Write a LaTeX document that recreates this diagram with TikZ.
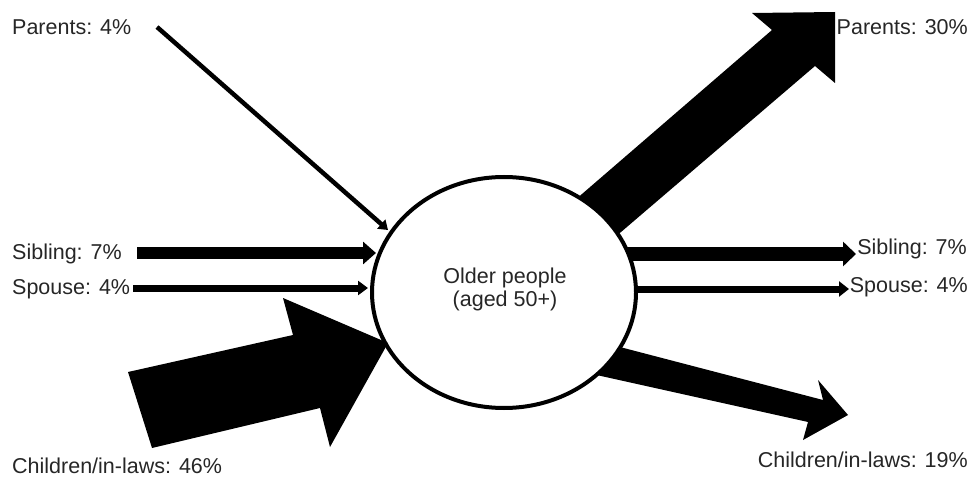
\documentclass[tikz,border=0pt]{standalone}
\usepackage{fontspec}
\setmainfont{Liberation Sans}
\usetikzlibrary{arrows.meta,shapes.geometric}
\begin{document}
\begin{tikzpicture}[x=1pt,y=-1pt,
  lbl/.style={inner sep=0pt,text=black!85,font=\fontsize{21.5}{23}\selectfont},
  blockarrow/.style={fill=black,draw=none},
  flow/.style={draw=black}]
\useasboundingbox (0,0) rectangle (980,481);
% labels
\node[lbl,anchor=base west] (pin) at (12,34.5) {Parents: 4\%};
\node[lbl,anchor=base west] (sin) at (12,259.5) {Sibling: 7\%};
\node[lbl,anchor=base west] (spin) at (12,294.5) {Spouse: 4\%};
\node[lbl,anchor=base west] (cin) at (12,473.5) {Children/in-laws: 46\%};
\node[lbl,anchor=base east] (pout) at (968,34.5) {Parents: 30\%};
\node[lbl,anchor=base east] (sout) at (967,254.5) {Sibling: 7\%};
\node[lbl,anchor=base east] (spout) at (968,292.5) {Spouse: 4\%};
\node[lbl,anchor=base east] (cout) at (968,467.5) {Children/in-laws: 19\%};
% coordinates
\coordinate (pinA) at (157,27);
\coordinate (pinB) at (388,230);
\coordinate (sinA) at (137,253);
\coordinate (sinB) at (376,253);
\coordinate (spinA) at (133,288);
\coordinate (spinB) at (368,288);
\coordinate (soutA) at (600,254);
\coordinate (soutB) at (856,254);
\coordinate (spoutA) at (600,289);
\coordinate (spoutB) at (849,289);
% outgoing arrows (under the circle)
\fill[blockarrow] (560,213) -- (772,30) -- (752,13) -- (835,12) -- (835,83) -- (815,66) -- (600,250) -- cycle;
\fill[blockarrow] (593,340) -- (823,400) -- (818,380) -- (848,415) -- (803,440) -- (808,422) -- (574,370) -- cycle;
\draw[flow,line width=14pt,-{Triangle[length=13pt,width=24pt]}] (soutA) -- (soutB);
\draw[flow,line width=7pt,-{Triangle[length=10pt,width=15pt]}] (spoutA) -- (spoutB);
% circle
\node[ellipse,draw=black,line width=4pt,fill=white,minimum width=264pt,minimum height=231pt,inner sep=0pt] (old) at (504,292.5) {};
\node[lbl,align=center] (oldtxt) at (505,289) {Older people\\(aged 50+)};
% incoming arrows
\draw[flow,line width=4.5pt,-{Triangle[length=9pt,width=12pt]}] (pinA) -- (pinB);
\draw[flow,line width=12.5pt,-{Triangle[length=13pt,width=22pt]}] (sinA) -- (sinB);
\draw[flow,line width=7pt,-{Triangle[length=10pt,width=14pt]}] (spinA) -- (spinB);
\fill[blockarrow] (152,448) -- (128,372) -- (293,335) -- (283,298) -- (388,343) -- (330,447) -- (320,408) -- cycle;
\end{tikzpicture}
\end{document}
